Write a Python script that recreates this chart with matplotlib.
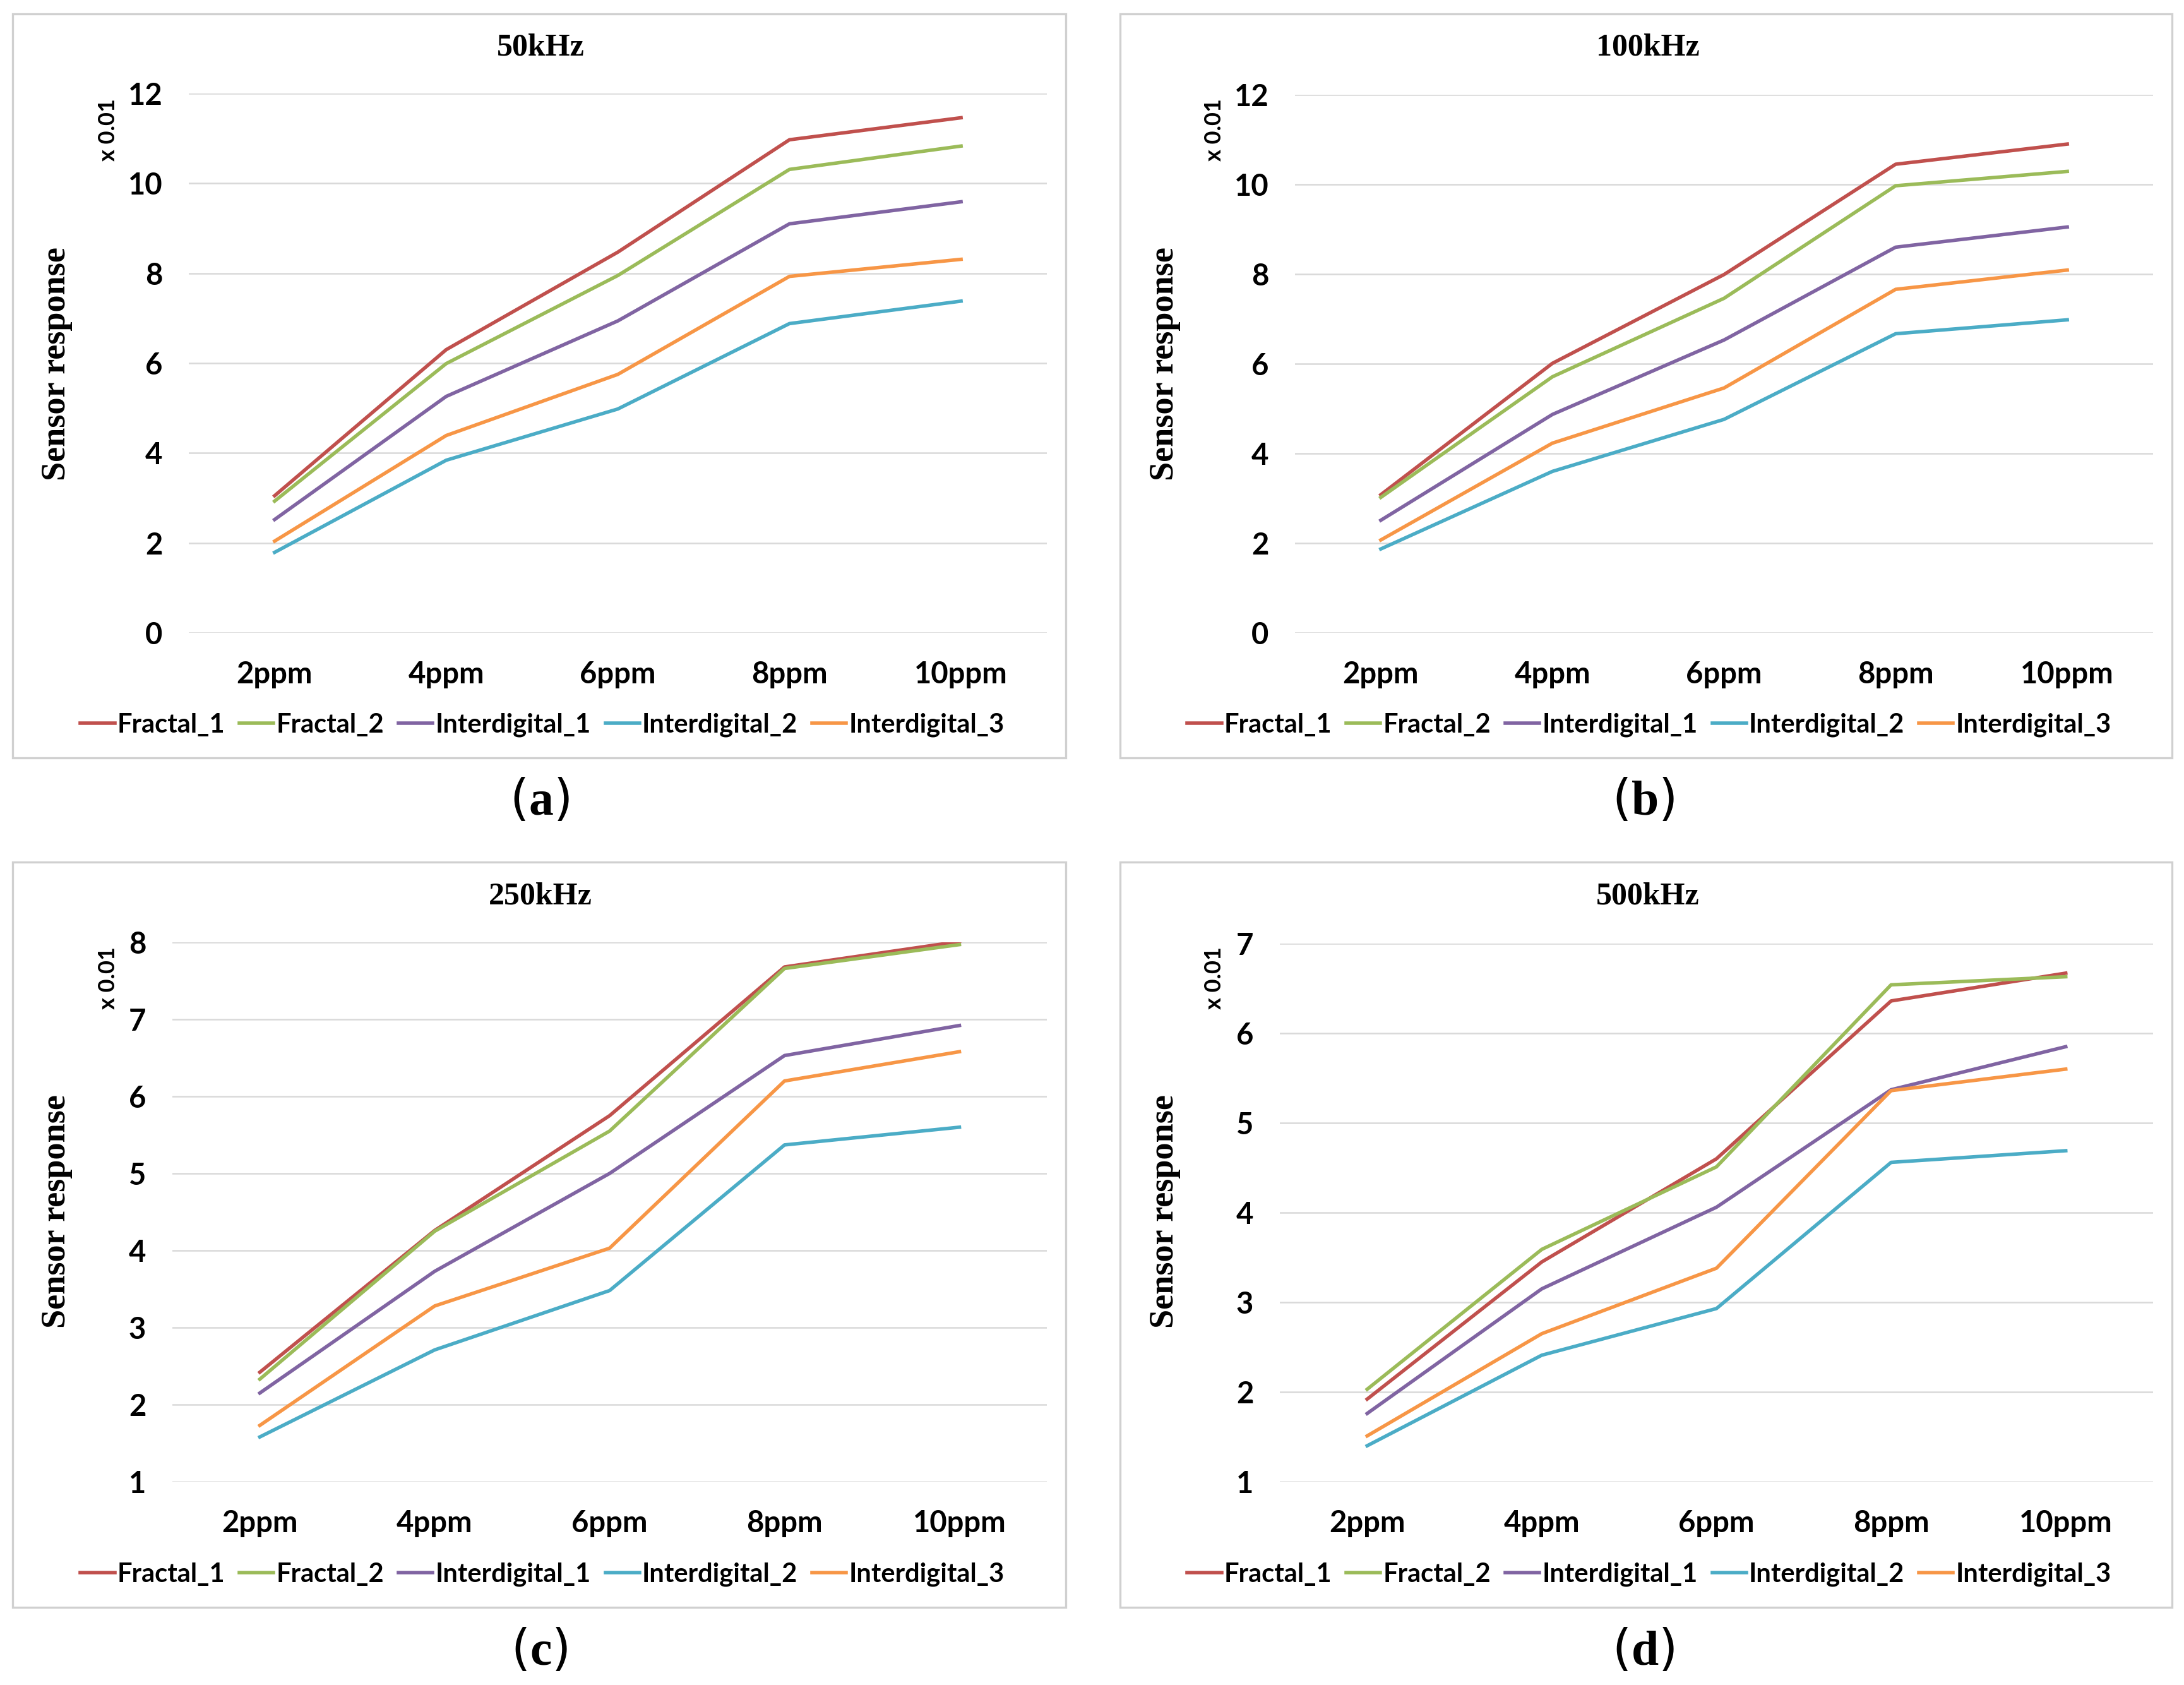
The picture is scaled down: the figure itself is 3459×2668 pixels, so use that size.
import numpy as np
import matplotlib.pyplot as plt
from matplotlib.patches import Rectangle

plt.rcParams['mathtext.fontset'] = 'custom'
plt.rcParams['mathtext.rm'] = 'Liberation Serif'
plt.rcParams['mathtext.bf'] = 'Liberation Serif:bold'

W, H = 3459, 2668
DPI = 200

# data (values x 0.01)
categories = ["2ppm", "4ppm", "6ppm", "8ppm", "10ppm"]
series_names = ["Fractal_1", "Fractal_2", "Interdigital_1", "Interdigital_2", "Interdigital_3"]
colors = ["#C0504D", "#9BBB59", "#8064A2", "#4BACC6", "#F79646"]

f50_fractal_1 = [3.05, 6.30, 8.47, 10.97, 11.46]
f50_fractal_2 = [2.93, 5.99, 7.95, 10.31, 10.83]
f50_inter_1 = [2.52, 5.26, 6.94, 9.10, 9.59]
f50_inter_2 = [1.79, 3.84, 4.98, 6.88, 7.38]
f50_inter_3 = [2.04, 4.39, 5.75, 7.93, 8.31]

f100_fractal_1 = [3.08, 6.01, 7.99, 10.45, 10.90]
f100_fractal_2 = [3.02, 5.71, 7.46, 9.97, 10.29]
f100_inter_1 = [2.51, 4.87, 6.53, 8.60, 9.05]
f100_inter_2 = [1.87, 3.60, 4.76, 6.67, 6.98]
f100_inter_3 = [2.07, 4.23, 5.46, 7.66, 8.09]

f250_fractal_1 = [2.42, 4.26, 5.75, 7.68, 8.01]
f250_fractal_2 = [2.33, 4.25, 5.55, 7.66, 7.97]
f250_inter_1 = [2.15, 3.73, 5.00, 6.53, 6.92]
f250_inter_2 = [1.58, 2.71, 3.48, 5.37, 5.60]
f250_inter_3 = [1.73, 3.28, 4.03, 6.20, 6.58]

f500_fractal_1 = [1.92, 3.45, 4.60, 6.36, 6.67]
f500_fractal_2 = [2.03, 3.59, 4.51, 6.54, 6.63]
f500_inter_1 = [1.76, 3.15, 4.06, 5.37, 5.85]
f500_inter_2 = [1.40, 2.41, 2.93, 4.56, 4.69]
f500_inter_3 = [1.51, 2.65, 3.38, 5.36, 5.60]

titles = ["50kHz", "100kHz", "250kHz", "500kHz"]
panel_tags = ["a", "b", "c", "d"]
all_data = [
    [f50_fractal_1, f50_fractal_2, f50_inter_1, f50_inter_2, f50_inter_3],
    [f100_fractal_1, f100_fractal_2, f100_inter_1, f100_inter_2, f100_inter_3],
    [f250_fractal_1, f250_fractal_2, f250_inter_1, f250_inter_2, f250_inter_3],
    [f500_fractal_1, f500_fractal_2, f500_inter_1, f500_inter_2, f500_inter_3],
]
y_ranges = [(0, 12, 2), (0, 12, 2), (1, 8, 1), (1, 7, 1)]

# layout in pixels: axes (left, top, right, bottom), border box, text positions
axes_px = [(299, 148, 1658, 1002), (2051, 150, 3410, 1002),
           (273, 1492, 1658, 2346), (2027, 1494, 3410, 2346)]
border_px = [(20, 22, 1688, 1200), (1774, 22, 3440, 1200),
             (20, 1365, 1688, 2545), (1774, 1365, 3440, 2545)]
title_px = [(856, 76), (2610, 76), (856, 1419), (2610, 1419)]
ylabel_px = [(90, 576), (1845, 576), (90, 1918), (1845, 1918)]
scale_px = [(171, 206), (1923, 206), (171, 1549), (1923, 1549)]
legend_px = [(859, 1148), (2612, 1148), (859, 2493), (2612, 2493)]
tag_px = [(854, 1268), (2603, 1268), (854, 2614), (2603, 2614)]

def fx(x):
    return x / W

def fy(y):
    return 1 - y / H

sans = ['Lato', 'DejaVu Sans']
serif = ['Liberation Serif', 'DejaVu Serif']

fig = plt.figure(figsize=(W / DPI, H / DPI), dpi=DPI)
fig.patch.set_facecolor('white')

x = np.arange(len(categories))

for i in range(4):
    l, t, r, b = axes_px[i]
    ax = fig.add_axes([fx(l), fy(b), fx(r) - fx(l), fy(t) - fy(b)])

    for vals, name, col in zip(all_data[i], series_names, colors):
        ax.plot(x, vals, color=col, lw=2.0, label=name, solid_joinstyle='round')

    lo, hi, step = y_ranges[i]
    ax.set_ylim(lo, hi)
    ax.set_xlim(-0.5, len(categories) - 0.5)
    ax.set_yticks(np.arange(lo, hi + step / 2, step))
    ax.set_xticks(x)
    ax.set_xticklabels(categories)
    ax.grid(axis='y', color='#D9D9D9', lw=0.9)
    ax.set_axisbelow(True)
    for s in ax.spines.values():
        s.set_visible(False)
    ax.tick_params(length=0, labelsize=17, pad=15)
    ax.tick_params(axis='x', pad=16)
    for lab in ax.get_xticklabels() + ax.get_yticklabels():
        lab.set_family(sans)
        lab.set_fontweight('bold')

    leg = ax.legend(loc='center', bbox_to_anchor=(fx(legend_px[i][0]), fy(legend_px[i][1])),
                    bbox_transform=fig.transFigure, ncol=5, frameon=False,
                    handlelength=1.3, handletextpad=0.1, columnspacing=0.55,
                    prop={'family': sans, 'weight': 'bold', 'size': 15})

    fig.text(fx(title_px[i][0]), fy(title_px[i][1]), titles[i], ha='center', va='center',
             family=serif, fontweight='bold', fontsize=18)
    fig.text(fx(ylabel_px[i][0]), fy(ylabel_px[i][1]), "Sensor response", ha='center', va='center',
             rotation=90, family=serif, fontweight='bold', fontsize=19.5)
    fig.text(fx(scale_px[i][0]), fy(scale_px[i][1]), "x 0.01", ha='center', va='center',
             rotation=90, family=sans, fontweight='bold', fontsize=13)
    fig.text(fx(tag_px[i][0]), fy(tag_px[i][1]), r"($\mathbf{" + panel_tags[i] + "}$)",
             ha='center', va='center', fontsize=28)

    bl, bt, br, bb = border_px[i]
    fig.patches.append(Rectangle((fx(bl), fy(bb)), fx(br) - fx(bl), fy(bt) - fy(bb),
                                 transform=fig.transFigure, fill=False,
                                 edgecolor='#D0D0D0', lw=1.2))

fig.savefig("out.png", dpi=DPI, facecolor='white')
